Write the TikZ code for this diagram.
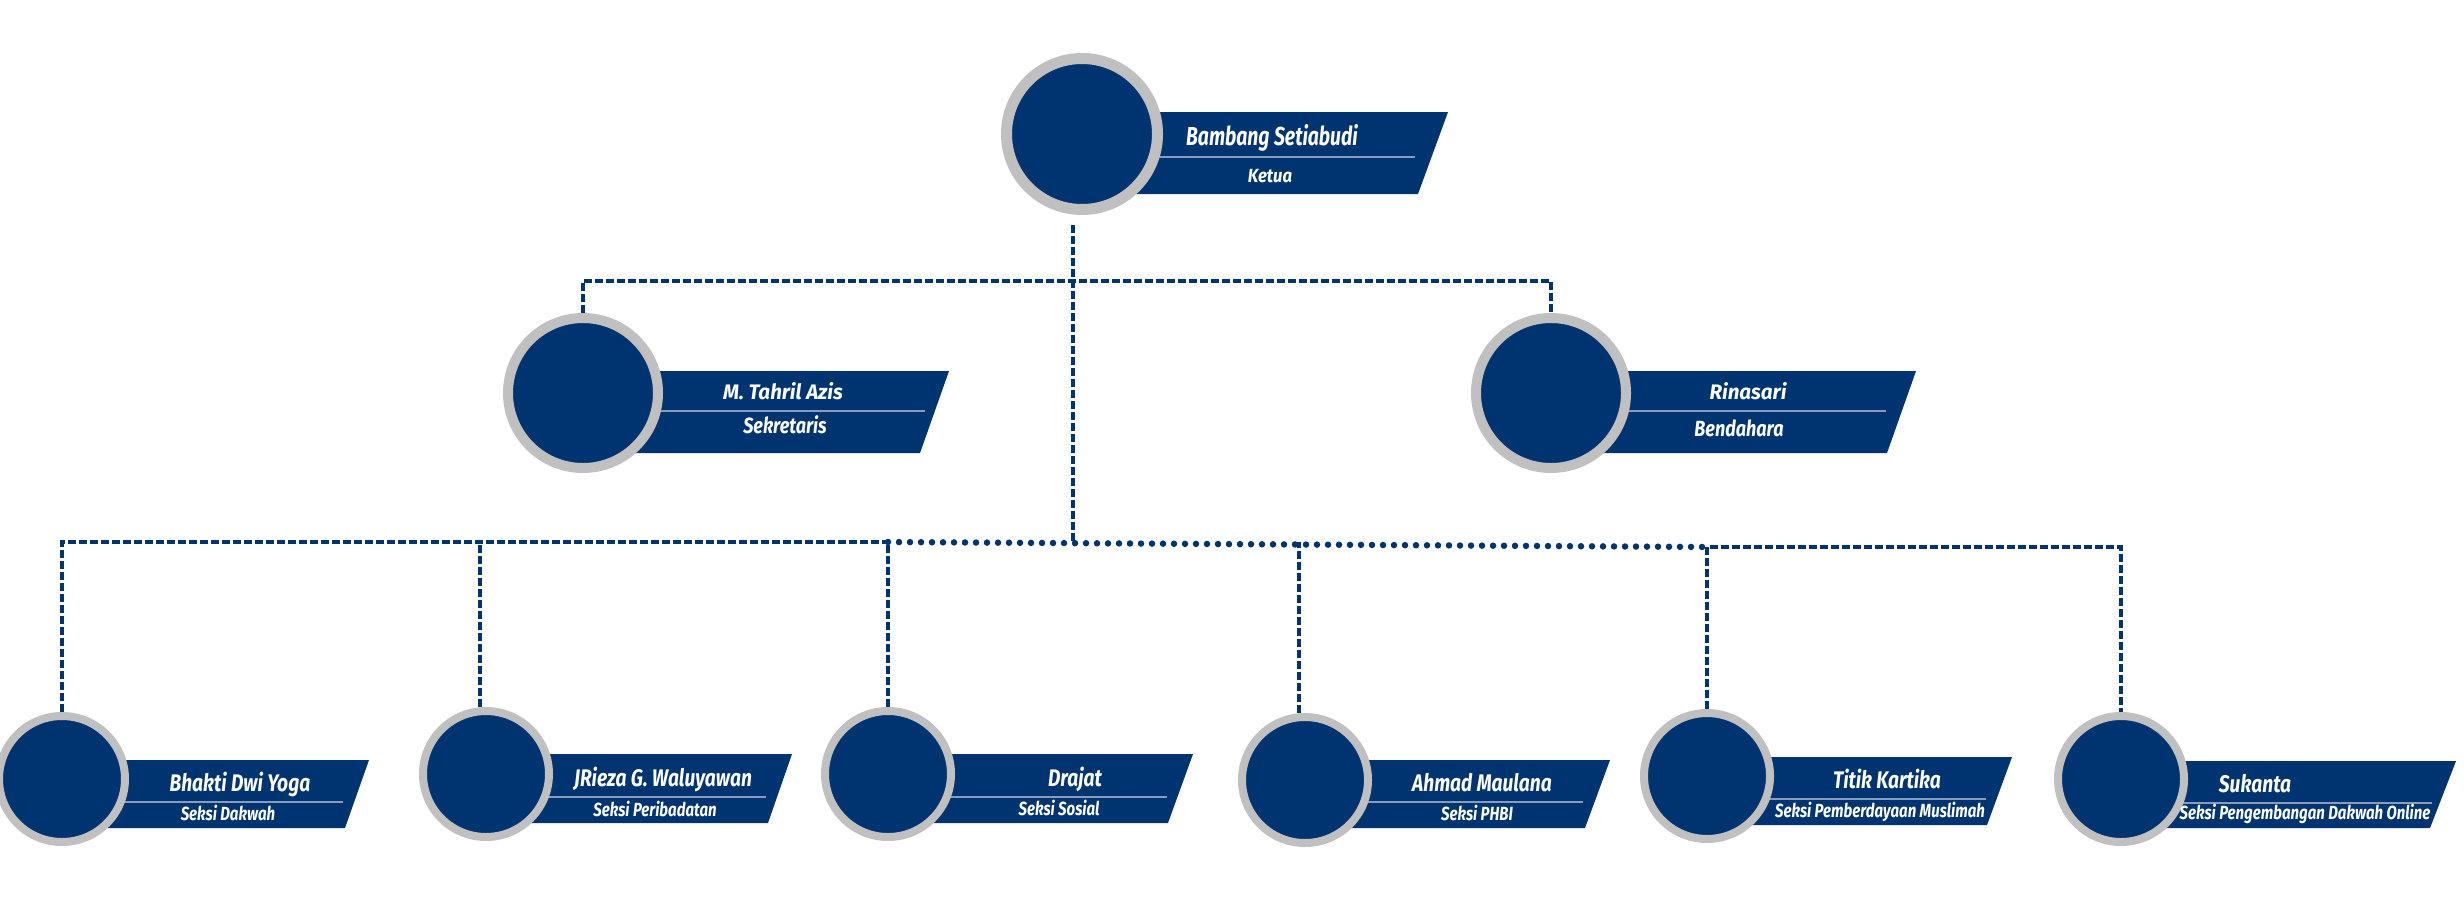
\documentclass[tikz,border=0pt]{standalone}
\usepackage{graphicx}
\usepackage{fontspec}
\setmainfont{Fira Sans}
\definecolor{navy}{RGB}{0,52,112}
\definecolor{ringgray}{RGB}{192,192,192}
\definecolor{rulecol}{RGB}{136,156,190}

% horizontally condensed label texts, one width per level
\newcommand\TopName[1]{\scalebox{0.745}[1]{#1}}
\newcommand\TopRole[1]{\scalebox{0.88}[1]{#1}}
\newcommand\MidName[1]{\scalebox{0.98}[1]{#1}}
\newcommand\MidRole[1]{\scalebox{0.82}[1]{#1}}
\newcommand\LowName[1]{\scalebox{0.8}[1]{#1}}
\newcommand\LowRole[1]{\scalebox{0.79}[1]{#1}}

\begin{document}
\begin{tikzpicture}[x=1pt,y=-1pt,
  bigdisc/.style={circle, fill=navy, draw=ringgray, line width=11pt, minimum size=151pt, inner sep=0pt},
  middisc/.style={circle, fill=navy, draw=ringgray, line width=10pt, minimum size=150pt, inner sep=0pt},
  smalldisc/.style={circle, fill=navy, draw=ringgray, line width=8pt, minimum size=126pt, inner sep=0pt},
  banner/.style={fill=navy},
  sepline/.style={draw=rulecol, line width=1.2pt},
  txt/.style={text=white, anchor=base, inner sep=0pt},
  topname/.style={txt, font=\fontsize{26}{30}\selectfont\bfseries\itshape},
  toprole/.style={txt, font=\fontsize{19}{23}\selectfont\bfseries\itshape},
  midname/.style={txt, font=\fontsize{21}{25}\selectfont\bfseries\itshape},
  midrole/.style={txt, font=\fontsize{22}{26}\selectfont\bfseries\itshape},
  lowname/.style={txt, font=\fontsize{24}{28}\selectfont\bfseries\itshape},
  lowrole/.style={txt, font=\fontsize{19}{23}\selectfont\bfseries\itshape},
  dashline/.style={draw=navy, line width=3.5pt, dash pattern=on 8pt off 3pt},
  dotline/.style={draw=navy, line width=6.5pt, line cap=round, dash pattern=on 0pt off 11pt},
]
\useasboundingbox (0,0) rectangle (2464,900);

% ---------- Ketua ----------
\fill[banner] (1082,112) -- (1448,112) -- (1418,194) -- (1082,194) -- cycle;
\draw[sepline] (1082,157) -- (1415,157);
\node[bigdisc] (ketua) at (1082,134) {};
\node[topname] (ketuaN) at (1272,145) {\TopName{Bambang Setiabudi}};
\node[toprole] (ketuaR) at (1270,182) {\TopRole{Ketua}};

% ---------- Sekretaris ----------
\fill[banner] (583,371) -- (949,371) -- (920,453) -- (583,453) -- cycle;
\draw[sepline] (583,411) -- (925,411);
\node[middisc] (sek) at (583,393) {};
\node[midname] (sekN) at (783,399) {\MidName{M. Tahril Azis}};
\node[midrole] (sekR) at (785,433) {\MidRole{Sekretaris}};

% ---------- Bendahara ----------
\fill[banner] (1551,371) -- (1916,371) -- (1887,453) -- (1551,453) -- cycle;
\draw[sepline] (1551,411) -- (1886,411);
\node[middisc] (ben) at (1551,393) {};
\node[midname] (benN) at (1748,399) {\MidName{Rinasari}};
\node[midrole] (benR) at (1739,436) {\MidRole{Bendahara}};

% ---------- Seksi ----------
\fill[banner] (62,760) -- (369,760) -- (345,828) -- (62,828) -- cycle;
\draw[sepline] (62,802) -- (343,802);
\node[smalldisc] (b1) at (62,779) {};
\node[lowname] (b1N) at (240,791) {\LowName{Bhakti Dwi Yoga}};
\node[lowrole] (b1R) at (228,820) {\LowRole{Seksi Dakwah}};

\fill[banner] (486,754) -- (792,754) -- (768,823) -- (486,823) -- cycle;
\draw[sepline] (486,797) -- (766,797);
\node[smalldisc] (b2) at (486,774) {};
\node[lowname] (b2N) at (663,786) {\LowName{JRieza G. Waluyawan}};
\node[lowrole] (b2R) at (655,816) {\LowRole{Seksi Peribadatan}};

\fill[banner] (888,754) -- (1193,754) -- (1168,823) -- (888,823) -- cycle;
\draw[sepline] (888,797) -- (1167,797);
\node[smalldisc] (b3) at (888,774) {};
\node[lowname] (b3N) at (1075,786) {\LowName{Drajat}};
\node[lowrole] (b3R) at (1059,815) {\LowRole{Seksi Sosial}};

\fill[banner] (1305,760) -- (1610,760) -- (1585,828) -- (1305,828) -- cycle;
\draw[sepline] (1305,802) -- (1583,802);
\node[smalldisc] (b4) at (1305,780) {};
\node[lowname] (b4N) at (1482,791) {\LowName{Ahmad Maulana}};
\node[lowrole] (b4R) at (1477,820) {\LowRole{Seksi PHBI}};

\fill[banner] (1707,757) -- (2012,757) -- (1987,825) -- (1707,825) -- cycle;
\draw[sepline] (1707,799) -- (1986,799);
\node[smalldisc] (b5) at (1707,776) {};
\node[lowname] (b5N) at (1887,788) {\LowName{Titik Kartika}};
\node[lowrole] (b5R) at (1880,817) {\LowRole{Seksi Pemberdayaan Muslimah}};

\fill[banner] (2121,761) -- (2456,761) -- (2430,828) -- (2121,828) -- cycle;
\draw[sepline] (2121,803) -- (2432,803);
\node[smalldisc] (b6) at (2121,779) {};
\node[lowname] (b6N) at (2255,792) {\LowName{Sukanta}};
\node[lowrole] (b6R) at (2305,819) {\LowRole{Seksi Pengembangan Dakwah Online}};

% ---------- connectors ----------
\coordinate (hub) at (1073,542);
\coordinate (hubr) at (1707,547);
\draw[dashline] ([yshift=-10pt]ketua.south -| hub) -- (hub);
\draw[dashline] (sek.north) -- ++(0,-32) -| (ben.north);

\draw[dashline] (b1.north) -- (b1.north |- hub) -- (b3.north |- hub);
\draw[dashline] (b2.95) -- (b2.95 |- hub);
\draw[dashline] (b3.north) -- (b3.north |- hub);
\draw[dotline] (b3.north |- hub) -- (b5.north |- hubr);
\draw[dashline] (b4.95) -- (b4.95 |- hub);
\draw[dashline] (b5.north) -- (b5.north |- hubr) -- (b6.north |- hubr) -- (b6.north);
\end{tikzpicture}
\end{document}
